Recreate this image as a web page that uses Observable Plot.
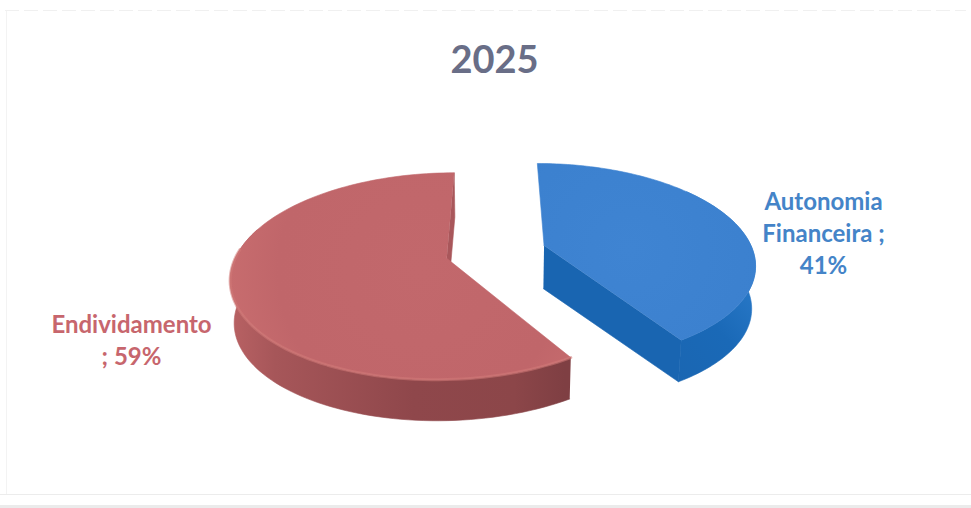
<!DOCTYPE html>
<html lang="pt">
<head>
<meta charset="utf-8">
<script src="https://cdn.jsdelivr.net/npm/d3@7"></script>
<script src="https://cdn.jsdelivr.net/npm/@observablehq/plot@0.6"></script>
<style>
  html, body { margin: 0; padding: 0; background: #fff; }
  svg { display: block; }
</style>
</head>
<body>
<div id="chart"></div>
<script>
// Capital structure for 2025
const title = "2025";
const categories = ["Endividamento", "Autonomia Financeira"];
const shares = [59, 41];
const labelLines = [["Endividamento", "; 59%"], ["Autonomia", "Financeira ;", "41%"]];
const labelColors = ["#c7666d", "#4484c8"];

// Projection of the tilted disc: centre, radii, perspective and thickness
const view = {cx: 497, cy: 248, rx: 208, ry: 97, k: 0.17, shrink: 0.985, drop: 43};
// Each slice is pulled away from the centre along its own direction
const explode = [{x: -0.24, z: 0.1}, {x: 0.225, z: -0.03}];

function project(X, Z, lower = false) {
  const s = 1 / (1 - view.k * Z);
  const x = view.rx * X * s, y = view.ry * Z * s;
  return lower
    ? {x: view.cx + x * view.shrink, y: view.cy + y * view.shrink + view.drop}
    : {x: view.cx + x, y: view.cy + y};
}

// Angles run clockwise from twelve o'clock; the first slice runs backwards from the front corner to the top
const total = d3.sum(shares);
const spans = [
  [-2 * Math.PI * shares[0] / total, 0],
  [0, 2 * Math.PI * shares[1] / total]
];

function arc(i, lower = false, from = 0, to = 1) {
  const [a0, a1] = spans[i], off = explode[i];
  return d3.range(121).map((j) => j / 120).filter((t) => t >= from && t <= to).map((t) => {
    const a = a0 + (a1 - a0) * t;
    return project(off.x + Math.sin(a), off.z - Math.cos(a), lower);
  });
}
const apex = (i, lower = false) => project(explode[i].x, explode[i].z, lower);
const rim = (i, from, to) => [...arc(i, false, from, to), ...arc(i, true, from, to).reverse()];
const wall = (a, b) => [a(false), b(false), b(true), a(true)];

// Parts of each slice, back to front
const redBackWall = wall((l) => apex(0, l), (l) => arc(0, l).at(-1));
const redOuter = rim(0, 0, 0.66);
const redTop = [apex(0), ...arc(0)];
const redEdge = arc(0, false, 0, 0.6);
const blueCutWall = wall((l) => apex(1, l), (l) => arc(1, l).at(-1));
const blueOuter = rim(1, 0.35, 1);
const blueTop = [apex(1), ...arc(1)];

const defs = () => {
  const node = d3.create("svg:defs");
  node.html(`
    <linearGradient id="redSide" gradientUnits="userSpaceOnUse" x1="228" x2="564" y1="0" y2="0">
      <stop offset="0" stop-color="#b96264"/><stop offset="0.14" stop-color="#a65659"/>
      <stop offset="0.55" stop-color="#8f474b"/><stop offset="0.85" stop-color="#8c4649"/>
      <stop offset="1" stop-color="#7f3f43"/>
    </linearGradient>
    <radialGradient id="redFace" gradientUnits="userSpaceOnUse" cx="420" cy="270" r="190">
      <stop offset="0" stop-color="#c2686c"/><stop offset="0.75" stop-color="#c0666a"/>
      <stop offset="1" stop-color="#c76c6e"/>
    </radialGradient>
    <linearGradient id="blueSide" gradientUnits="userSpaceOnUse" x1="640" x2="757" y1="380" y2="280">
      <stop offset="0" stop-color="#1a65b0"/><stop offset="0.6" stop-color="#1a69b7"/>
      <stop offset="1" stop-color="#2a7ac9"/>
    </linearGradient>
    <radialGradient id="blueFace" gradientUnits="userSpaceOnUse" cx="630" cy="250" r="150">
      <stop offset="0" stop-color="#3f84d2"/><stop offset="1" stop-color="#3b80ce"/>
    </radialGradient>`);
  return node.node();
};

const part = (points, fill) => Plot.line(points, {x: "x", y: "y", fill, stroke: fill, strokeWidth: 0.6, curve: "linear"});

// One text mark per line block, centred on the block's own anchor
const labelMark = (i, x, y) => Plot.text([labelLines[i].join("\n")], {
  x: () => x, y: () => y, text: (d) => d,
  fill: labelColors[i], fontFamily: "Lato, sans-serif", fontWeight: 700, fontSize: 24,
  lineHeight: 1.34, textAnchor: "middle", lineAnchor: "middle"
});

const chart = Plot.plot({
  width: 971,
  height: 508,
  margin: 0,
  style: {background: "#fff"},
  x: {domain: [0, 971], range: [0, 971], axis: null},
  y: {domain: [0, 508], range: [0, 508], axis: null},
  marks: [
    defs,
    // Faint chart frame
    Plot.ruleX([6], {y1: 10, y2: 494, stroke: "#f3f3f3"}),
    Plot.ruleY([10], {x1: 5, x2: 966, stroke: "#f0f0f0", strokeDasharray: "14 5"}),
    Plot.ruleY([494], {x1: 0, x2: 971, stroke: "#ececec"}),
    Plot.ruleY([506], {x1: 0, x2: 971, stroke: "#ebebeb", strokeWidth: 3}),
    part(redBackWall, "#a9575b"),
    part(redOuter, "url(#redSide)"),
    part(redTop, "url(#redFace)"),
    Plot.line(redEdge, {x: "x", y: "y", stroke: "#d27a79", strokeWidth: 3, strokeOpacity: 0.55, curve: "linear"}),
    part(blueCutWall, "#1965b1"),
    part(blueOuter, "url(#blueSide)"),
    part(blueTop, "url(#blueFace)"),
    Plot.text([title], {
      x: () => 494, y: () => 60, text: (d) => d, fill: "#696e87",
      fontFamily: "Lato, sans-serif", fontWeight: 700, fontSize: 38
    }),
    labelMark(0, 131, 338),
    labelMark(1, 823, 231)
  ]
});
document.getElementById("chart").append(chart);
</script>
</body>
</html>
